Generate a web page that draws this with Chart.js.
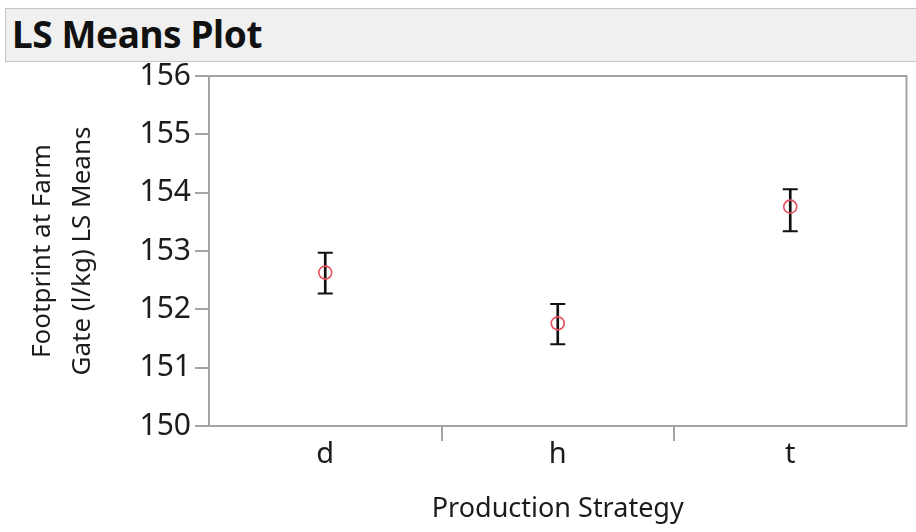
<!DOCTYPE html>
<html>
<head>
<meta charset="utf-8">
<script src="https://cdn.jsdelivr.net/npm/chart.js@4"></script>
<style>
  html, body { margin: 0; padding: 0; background: #fff; }
  #wrap { position: relative; width: 916px; height: 532px; }
  #titleBar {
    position: absolute; left: 5px; top: 8px; width: 920px; height: 54px;
    background: #f0f0f0; border: 1px solid #c4c4c4; box-sizing: border-box;
    font: bold 37px "Noto Sans", sans-serif; color: #111; letter-spacing: -0.4px;
    line-height: 50px; padding-left: 6px;
  }
  canvas { position: absolute; left: 0; top: 0; }
</style>
</head>
<body>
<div id="wrap">
  <canvas id="chart" width="916" height="532"></canvas>
  <div id="titleBar">LS Means Plot</div>
</div>
<script>
const categories = ['d', 'h', 't'];
const lsMeans = [152.63, 151.76, 153.76];
const upperCI = [152.97, 152.09, 154.06];
const lowerCI = [152.27, 151.40, 153.34];
const yTicks = [150, 151, 152, 153, 154, 155, 156];

const axisGray = '#a4a4a4';
const textColor = '#1c1c1c';

// frame round the plot area
const framePlugin = {
  id: 'frame',
  afterDraw(chart) {
    const { ctx, chartArea: a } = chart;
    ctx.save();
    ctx.strokeStyle = axisGray;
    ctx.lineWidth = 2;
    ctx.strokeRect(a.left, a.top, a.right - a.left, a.bottom - a.top);
    ctx.restore();
  }
};

const ctx = document.getElementById('chart').getContext('2d');

new Chart(ctx, {
  data: {
    labels: categories,
    datasets: [
      {
        type: 'line',
        data: lsMeans,
        showLine: false,
        pointStyle: 'circle',
        pointRadius: 6.5,
        pointBorderWidth: 1.6,
        pointBorderColor: '#e44e5c',
        pointBackgroundColor: 'rgba(0,0,0,0)',
        order: 0
      },
      {
        type: 'line',
        data: upperCI,
        showLine: false,
        pointStyle: 'line',
        pointRadius: 7.5,
        pointBorderWidth: 2,
        pointBorderColor: '#111',
        order: 1
      },
      {
        type: 'line',
        data: lowerCI,
        showLine: false,
        pointStyle: 'line',
        pointRadius: 7.5,
        pointBorderWidth: 2,
        pointBorderColor: '#111',
        order: 1
      },
      {
        type: 'bar',
        data: categories.map((c, i) => [lowerCI[i], upperCI[i]]),
        backgroundColor: '#111',
        barThickness: 2,
        grouped: false,
        order: 2
      }
    ]
  },
  options: {
    animation: false,
    responsive: false,
    events: [],
    layout: { padding: { left: 0, right: 6, top: 76, bottom: 0 } },
    plugins: { legend: { display: false }, tooltip: { enabled: false } },
    scales: {
      x: {
        type: 'category',
        offset: true,
        afterFit: (s) => { s.height = 106; },
        border: { display: false },
        grid: {
          offset: true,
          drawOnChartArea: false,
          tickLength: 15,
          lineWidth: 2,
          color: (c) => (c.type === 'tick' && c.index > 0) ? axisGray : 'rgba(0,0,0,0)'
        },
        ticks: {
          color: textColor,
          padding: -4,
          font: { family: 'Noto Sans', size: 29 }
        },
        title: {
          display: true,
          text: 'Production Strategy',
          color: textColor,
          padding: { top: 0, bottom: 6 },
          font: { family: 'Noto Sans', size: 27 }
        }
      },
      y: {
        min: yTicks[0],
        max: yTicks[yTicks.length - 1],
        afterFit: (s) => { s.width = 209; },
        afterBuildTicks: (s) => { s.ticks = yTicks.map(v => ({ value: v })); },
        border: { display: false },
        grid: {
          drawOnChartArea: false,
          tickLength: 14,
          lineWidth: 2,
          color: axisGray
        },
        ticks: {
          color: textColor,
          padding: 4,
          font: { family: 'Noto Sans', size: 30 }
        },
        title: {
          display: true,
          text: ['Footprint at Farm', 'Gate (l/kg) LS Means'],
          color: textColor,
          padding: { top: 22, bottom: 0 },
          font: { family: 'Noto Sans', size: 26, lineHeight: 1.55 }
        }
      }
    }
  },
  plugins: [framePlugin]
});
</script>
</body>
</html>
